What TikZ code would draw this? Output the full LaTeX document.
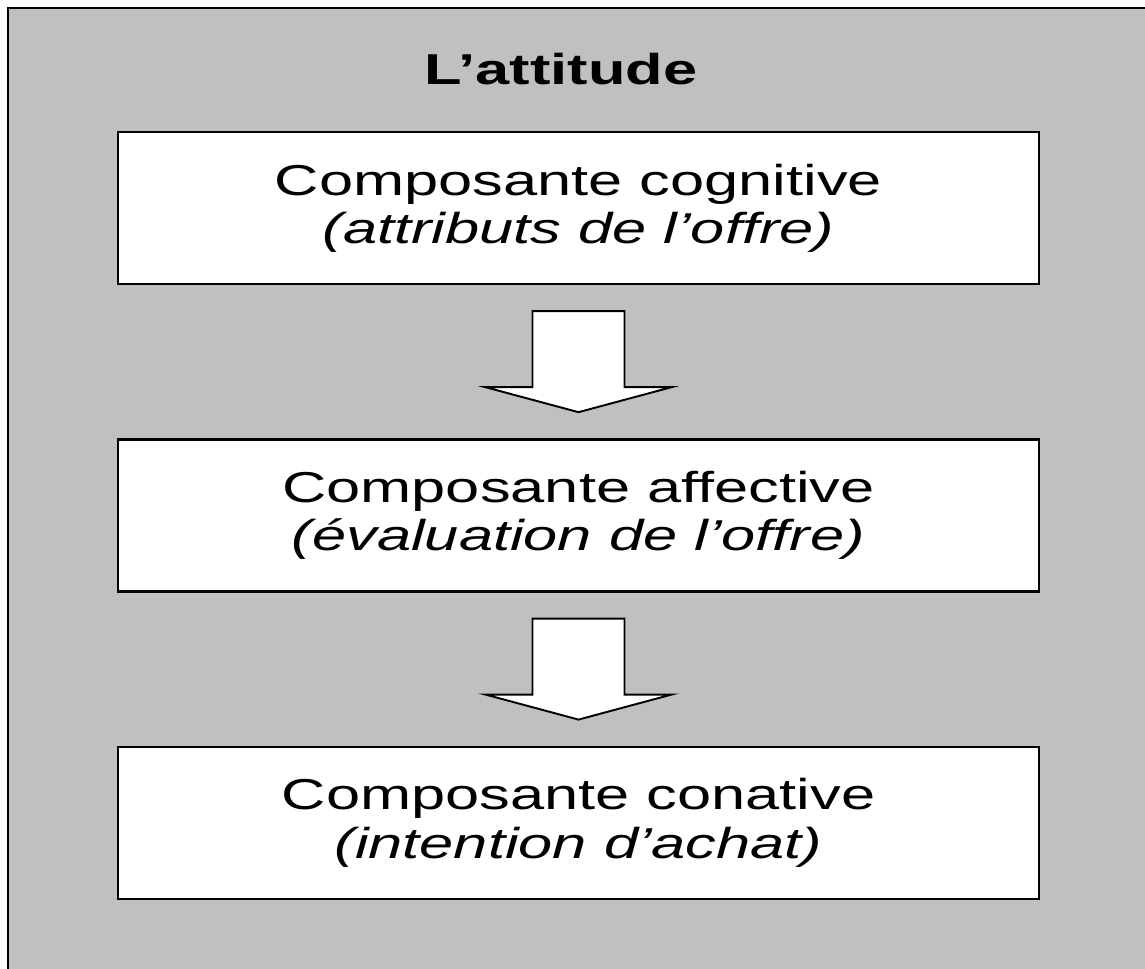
\documentclass[tikz,border=0pt]{standalone}
\usepackage{fontspec}
\setmainfont{Liberation Sans}[FakeStretch=1.42]
\usetikzlibrary{positioning,calc}
\definecolor{fond}{HTML}{C0C0C0}

% hollow block arrow from the bottom of one box to the top of the next
\newcommand*{\blockarrow}[2]{%
  \draw[fleche] ($(#1.south)+(-46,26)$) -- ($(#1.south)+(46,26)$)
    -- ($(#2.north)+(46,-51)$) -- ($(#2.north)+(93,-51)$)
    -- ($(#2.north)+(0,-26)$) -- ($(#2.north)+(-93,-51)$)
    -- ($(#2.north)+(-46,-51)$) -- cycle;}

\begin{document}
\begin{tikzpicture}[x=0.02cm,y=-0.02cm,%
  % common options for the three boxes:
  bloc/.style = {draw, line width=1.4pt, fill=white, align=center,
              minimum width=18.42cm, minimum height=3.04cm, inner sep=0,
              font=\fontsize{24.6}{27.5}\selectfont},
  % the heading above the boxes:
  entete/.style = {font=\fontsize{24.6}{27.5}\selectfont\bfseries, inner sep=0},
  % the hollow arrows between boxes:
  fleche/.style = {draw, line width=1.1pt, fill=white, line join=miter}]

\clip (0,0) rectangle (1145,969);

% grey panel, cut off at the right and at the bottom
\draw[line width=1.7pt,fill=fond] (8,8) rectangle (1170,1000);

% heading
\node[entete,anchor=base] (titre) at (561,85) {L’attitude};

% the three components
\node[bloc] (cog) at (578.5,208)
  {Composante cognitive\\ \textit{(attributs de l’offre)}};
\node[bloc,below=3.06cm of cog] (aff)
  {Composante affective\\ \textit{(évaluation de l’offre)}};
\node[bloc,below=3.06cm of aff] (con)
  {Composante conative\\ \textit{(intention d’achat)}};

% arrows between the components
\blockarrow{cog}{aff}
\blockarrow{aff}{con}
\end{tikzpicture}
\end{document}
